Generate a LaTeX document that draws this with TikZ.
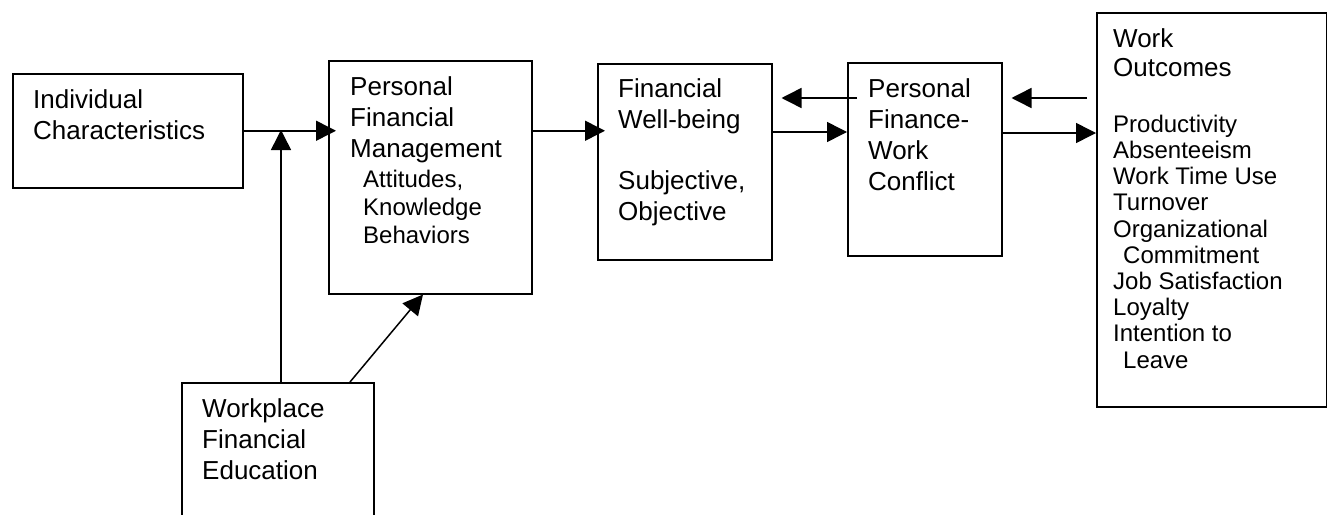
\documentclass[tikz,border=0pt]{standalone}
\usepackage{fontspec}
\setmainfont{Liberation Sans}
\usetikzlibrary{arrows.meta}
\newcommand\sH{\rule{0pt}{20pt}}
\begin{document}
\begin{tikzpicture}[x=1pt,y=-1pt,
  box/.style={draw, line width=1.5pt, inner sep=0pt, anchor=north west},
  txt/.style={anchor=north west, inner sep=0pt, align=left, font=\fontsize{26}{31}\selectfont},
  sub/.style={txt, font=\fontsize{24}{28}\selectfont},
  arr/.style={line width=1.5pt, -{Triangle[length=20pt,width=20pt]}}]
\useasboundingbox (0,0) rectangle (1327,514);
\begin{scope}
\clip (0,0) rectangle (1327,514);
% boxes
\node[box, minimum width=230pt, minimum height=114pt] (ic) at (12,73) {};
\node[box, minimum width=203pt, minimum height=233pt] (pfm) at (328,60) {};
\node[box, minimum width=174pt, minimum height=196pt] (fwb) at (597,63) {};
\node[box, minimum width=154pt, minimum height=193pt] (pfwc) at (847,62) {};
\node[box, minimum width=230pt, minimum height=394pt] (wo) at (1096,12) {};
\node[box, minimum width=192pt, minimum height=160pt] (wfe) at (181,382) {};
% texts
\node[txt] (ict) at (33,88) {\sH Individual\\Characteristics};
\node[txt] (pfmt) at (350,75) {\sH Personal\\Financial\\Management};
\node[sub] (pfms) at (363,167) {\sH Attitudes,\\Knowledge\\Behaviors};
\node[txt] (fwbt) at (618,77) {\sH Financial\\Well-being\\[30pt]Subjective,\\Objective};
\node[txt] (pfwct) at (868,77) {\sH Personal\\Finance-\\Work\\Conflict};
\node[txt, font=\fontsize{26}{29}\selectfont] (wot) at (1113,27) {\sH Work\\Outcomes};
\node[sub, font=\fontsize{24}{26.2}\selectfont] (wol) at (1113,112) {\sH Productivity\\Absenteeism\\Work Time Use\\Turnover\\Organizational\\\hspace*{10pt}Commitment\\Job Satisfaction\\Loyalty\\Intention to\\\hspace*{10pt}Leave};
\node[txt] (wfet) at (202,397) {\sH Workplace\\Financial\\Education};
% connectors
\coordinate (jn) at (281,130);
\draw[arr] (ic.east) -- ([xshift=8pt]ic.east -| pfm.west);
\draw[arr] (jn |- wfe.north) -- (jn);
\draw[arr] ([xshift=169pt]wfe.north west) -- ([xshift=95pt]pfm.south west);
\coordinate (y1) at (pfm.east |- ic.east);
\draw[arr] (y1) -- ([xshift=8pt]y1 -| fwb.west);
\draw[arr] ([xshift=10pt,yshift=-36pt]pfwc.north west) -- ([xshift=9pt,yshift=-35pt]fwb.north east);
\coordinate (y2) at ([yshift=-69pt]fwb.north east);
\draw[arr] (y2) -- (y2 -| pfwc.west);
\draw[arr] ([xshift=-9pt,yshift=-86pt]wo.north west) -- ([xshift=9pt,yshift=-36pt]pfwc.north east);
\coordinate (y3) at ([yshift=-71pt]pfwc.north east);
\draw[arr] (y3) -- (y3 -| wo.west);
\end{scope}
\end{tikzpicture}
\end{document}
